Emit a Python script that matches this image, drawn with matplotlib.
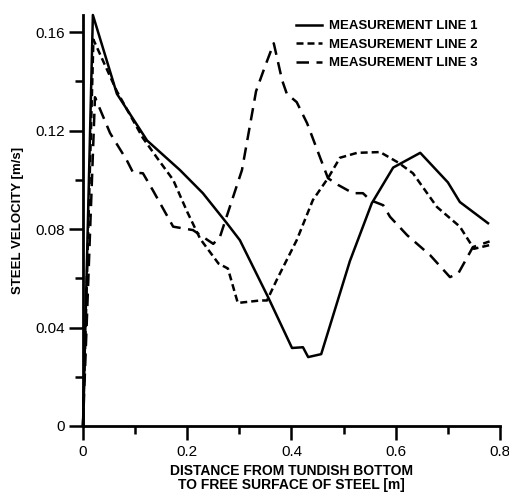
import matplotlib

matplotlib.use("Agg")
import matplotlib.pyplot as plt
from matplotlib.ticker import MultipleLocator

plt.rcParams["font.family"] = ["Liberation Sans", "DejaVu Sans"]

# measurement line 1 (solid)
x1 = [0, 0.019, 0.065, 0.123, 0.186, 0.23, 0.276, 0.301, 0.355, 0.401, 0.422,
      0.432, 0.457, 0.512, 0.554, 0.595, 0.647, 0.70, 0.723, 0.777]
y1 = [0, 0.167, 0.135, 0.116, 0.104, 0.0946, 0.0824, 0.0755, 0.0524, 0.0317, 0.032,
      0.028, 0.0292, 0.067, 0.0905, 0.105, 0.111, 0.099, 0.091, 0.0824]

# measurement line 2 (short dashes)
x2 = [0, 0.02, 0.065, 0.115, 0.142, 0.173, 0.2, 0.225, 0.26, 0.278, 0.297, 0.34,
      0.353, 0.372, 0.41, 0.441, 0.47, 0.493, 0.526, 0.57, 0.605, 0.633, 0.679,
      0.723, 0.75, 0.78]
y2 = [0, 0.157, 0.136, 0.117, 0.109, 0.100, 0.087, 0.076, 0.066, 0.064, 0.050, 0.051,
      0.051, 0.0595, 0.0755, 0.0918, 0.1007, 0.109, 0.111, 0.1113, 0.107, 0.1027, 0.089,
      0.081, 0.072, 0.0735]

# measurement line 3 (long dashes)
x3 = [0, 0.023, 0.052, 0.084, 0.096, 0.115, 0.134, 0.173, 0.211, 0.25, 0.263, 0.305,
      0.332, 0.349, 0.366, 0.382, 0.391, 0.41, 0.43, 0.455, 0.47, 0.489, 0.518, 0.537,
      0.551, 0.576, 0.589, 0.622, 0.666, 0.704, 0.72, 0.748, 0.78]
y3 = [0, 0.1336, 0.119, 0.108, 0.103, 0.1027, 0.0958, 0.081, 0.0796, 0.074, 0.077, 0.104,
      0.136, 0.146, 0.1555, 0.1405, 0.135, 0.1316, 0.123, 0.109, 0.1007, 0.098, 0.0946, 0.0946,
      0.0918, 0.0897, 0.085, 0.0775, 0.0694, 0.0605, 0.062, 0.0727, 0.075]

labels = ["MEASUREMENT LINE 1", "MEASUREMENT LINE 2", "MEASUREMENT LINE 3"]
x_ticks = [0, 0.2, 0.4, 0.6, 0.8]
x_tick_labels = ["0", "0.2", "0.4", "0.6", "0.8"]
y_ticks = [0, 0.04, 0.08, 0.12, 0.16]
y_tick_labels = ["0", "0.04", "0.08", "0.12", "0.16"]

fig = plt.figure(figsize=(5.1, 4.95), dpi=100)
ax = fig.add_axes([0.1627, 0.1394, 0.8177, 0.8303])

lw = 1.8
ax.plot(x1, y1, color="black", lw=lw, label=labels[0], clip_on=False)
ax.plot(x2, y2, color="black", lw=lw, dashes=(2.8, 1.6), label=labels[1], clip_on=False)
ax.plot(x3, y3, color="black", lw=lw, dashes=(5, 3), label=labels[2], clip_on=False)

ax.set_xlim(0, 0.8)
ax.set_ylim(0, 0.167)
ax.set_xticks(x_ticks)
ax.set_xticklabels(x_tick_labels)
ax.set_yticks(y_ticks)
ax.set_yticklabels(y_tick_labels)
ax.xaxis.set_minor_locator(MultipleLocator(0.1))
ax.yaxis.set_minor_locator(MultipleLocator(0.02))

for side in ["top", "right"]:
    ax.spines[side].set_visible(False)
for side in ["left", "bottom"]:
    ax.spines[side].set_linewidth(2)

ax.tick_params(which="major", direction="out", length=10, width=1.8, labelsize=11)
ax.tick_params(which="minor", direction="out", length=5.5, width=1.8)
ax.tick_params(axis="x", which="major", pad=4)
ax.tick_params(axis="y", which="major", pad=3)

ax.set_xlabel("DISTANCE FROM TUNDISH BOTTOM\nTO FREE SURFACE OF STEEL [m]",
              fontsize=10, fontweight="bold", linespacing=1.05, labelpad=3)
ax.set_ylabel("STEEL VELOCITY [m/s]", fontsize=9.5, fontweight="bold", labelpad=8)

leg = fig.legend(loc="upper left", bbox_to_anchor=(296 / 510, 1 - 20 / 495),
                 frameon=False, borderpad=0, borderaxespad=0, handlelength=2.0,
                 handletextpad=0.5, labelspacing=0.48,
                 prop={"size": 9.5, "weight": "bold"})

fig.savefig("out.png", dpi=100)
plt.close(fig)
